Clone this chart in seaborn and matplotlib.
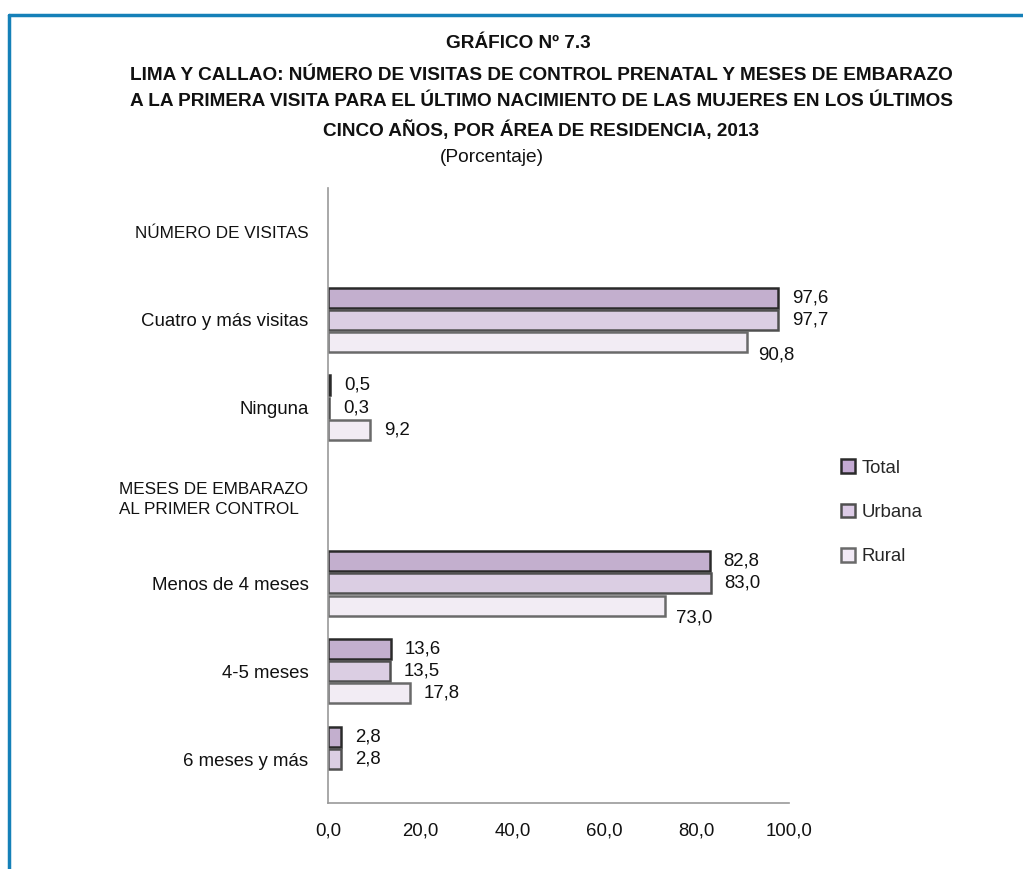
import numpy as np
import pandas as pd
import matplotlib
matplotlib.use("Agg")
import matplotlib.pyplot as plt
from matplotlib.patches import Patch
import seaborn as sns

categories = ["NÚMERO DE VISITAS", "Cuatro y más visitas", "Ninguna",
              "MESES DE EMBARAZO\nAL PRIMER CONTROL", "Menos de 4 meses",
              "4-5 meses", "6 meses y más"]
series = ["Total", "Urbana", "Rural"]
total = [np.nan, 97.6, 0.5, np.nan, 82.8, 13.6, 2.8]
urbana = [np.nan, 97.7, 0.3, np.nan, 83.0, 13.5, 2.8]
rural = [np.nan, 90.8, 9.2, np.nan, 73.0, 17.8, np.nan]
xticks = [0, 20, 40, 60, 80, 100]

fills = ["#c4aad3", "#dccbe6", "#f2eaf6"]
edges = ["#2a2a2a", "#505050", "#6a6a6a"]

rows = []
for s, vals in zip(series, [total, urbana, rural]):
    for c, v in zip(categories, vals):
        rows.append({"cat": c, "serie": s, "val": v})
df = pd.DataFrame(rows)

sns.set_theme(style="white")
fam = ["Liberation Sans Narrow", "Liberation Sans", "DejaVu Sans"]
plt.rcParams["font.family"] = fam

fig = plt.figure(figsize=(10.23, 8.69), dpi=100)
ax = fig.add_axes([328 / 1023, 1 - 803 / 869, (789 - 328) / 1023, (803 - 188) / 869])

sns.barplot(data=df, y="cat", x="val", hue="serie", order=categories,
            hue_order=series, palette=fills, orient="h", width=0.76, gap=0.1,
            ax=ax, legend=False, errorbar=None)

fs = 13.4
for i, (cont, ec) in enumerate(zip(ax.containers, edges)):
    for b in cont:
        b.set_edgecolor(ec)
        b.set_linewidth(1.8)
    anns = ax.bar_label(cont, fmt=lambda v: ("" if np.isnan(v) else f"{v:.1f}".replace(".", ",")),
                        padding=10, fontsize=fs, color="#111111")
    if i == 2:
        for a, v in zip(anns, cont.datavalues):
            if not np.isnan(v) and v > 50:
                a.xyann = (8, -9)

ax.set_xlim(0, 100)
ax.set_ylim(len(categories) - 0.5, -0.5)
ax.set_xticks(xticks)
ax.set_xticklabels([f"{t:.1f}".replace(".", ",") for t in xticks], fontsize=fs)
ax.tick_params(axis="x", length=0, pad=14, colors="#111111")
ax.tick_params(axis="y", length=0, pad=14, colors="#111111", labelsize=fs)
for lbl in ax.get_yticklabels():
    txt = lbl.get_text()
    if txt.isupper():
        lbl.set_fontsize(12.3)
    if "\n" in txt:
        lbl.set_multialignment("left")
        lbl.set_linespacing(1.4)
ax.set_xlabel("")
ax.set_ylabel("")
for sp in ["top", "right"]:
    ax.spines[sp].set_visible(False)
for sp in ["left", "bottom"]:
    ax.spines[sp].set_color("#999999")
    ax.spines[sp].set_linewidth(1.2)
ax.grid(False)

handles = [Patch(facecolor=f, edgecolor=e, linewidth=1.8) for f, e in zip(fills, edges)]
fig.legend(handles, series, loc="upper left", bbox_to_anchor=(834 / 1023, 1 - 452 / 869),
           frameon=False, fontsize=fs, handlelength=0.75, handleheight=0.75,
           handletextpad=0.35, labelspacing=1.45, borderaxespad=0)

title_lines = ["GRÁFICO Nº 7.3",
               "LIMA Y CALLAO: NÚMERO DE VISITAS DE CONTROL PRENATAL Y MESES DE EMBARAZO",
               "A LA PRIMERA VISITA PARA EL ÚLTIMO NACIMIENTO DE LAS MUJERES EN LOS ÚLTIMOS",
               "CINCO AÑOS, POR ÁREA DE RESIDENCIA, 2013"]
ys = [43, 75, 102, 130]
xs = [518, 541, 541, 541]
for t, x, y in zip(title_lines, xs, ys):
    fig.text(x / 1023, 1 - y / 869, t, ha="center", va="center", fontsize=13.7,
             fontweight="bold", color="#111111")
fig.text(492 / 1023, 1 - 158 / 869, "(Porcentaje)", ha="center", va="center",
         fontsize=13.8, color="#111111")

blue = "#1580b8"
fig.add_artist(plt.Line2D([9 / 1023, 1.0], [1 - 15 / 869, 1 - 15 / 869],
                          color=blue, lw=2.5, transform=fig.transFigure))
fig.add_artist(plt.Line2D([9 / 1023, 9 / 1023], [0, 1 - 15 / 869],
                          color=blue, lw=2.5, transform=fig.transFigure))

fig.savefig("out.png", dpi=100)
